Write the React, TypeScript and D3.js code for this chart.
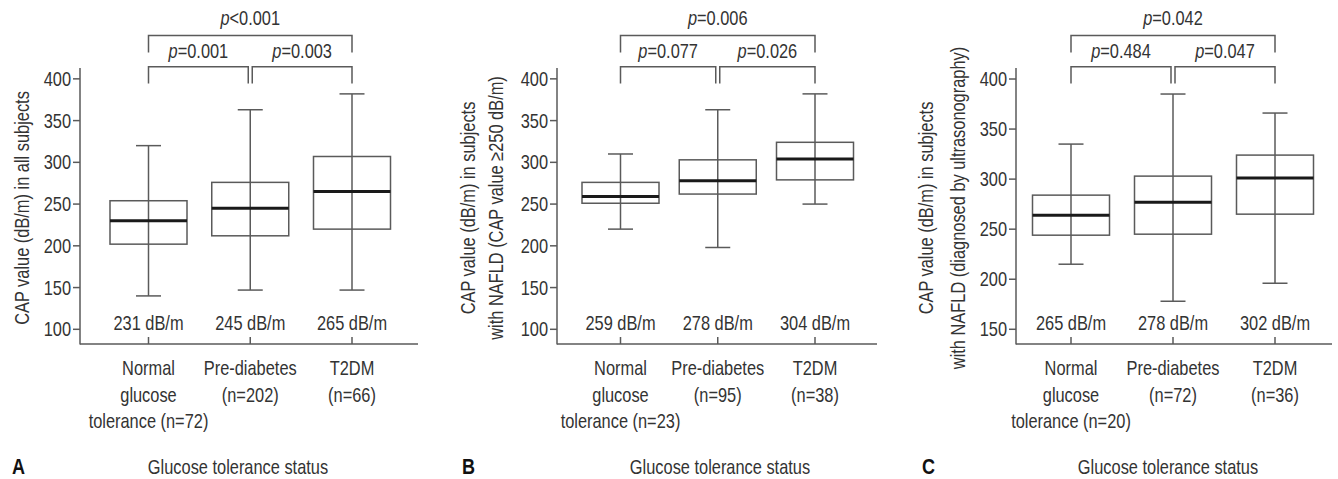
import * as d3 from "d3"

// ---- data ----
const groupNames = ["Normal glucose tolerance", "Pre-diabetes", "T2DM"]

const nA = [72, 202, 66]
const lowA = [140, 147, 147]
const q1A = [202, 212, 220]
const medA = [230, 245, 265]
const q3A = [254, 276, 307]
const highA = [320, 363, 382]
const medLabelsA = ["231 dB/m", "245 dB/m", "265 dB/m"]
const pA = ["=0.001", "=0.003", "<0.001"]

const nB = [23, 95, 38]
const lowB = [220, 198, 250]
const q1B = [251, 262, 279]
const medB = [259, 278, 304]
const q3B = [276, 303, 324]
const highB = [310, 363, 382]
const medLabelsB = ["259 dB/m", "278 dB/m", "304 dB/m"]
const pB = ["=0.077", "=0.026", "=0.006"]

const nC = [20, 72, 36]
const lowC = [215, 178, 196]
const q1C = [244, 245, 265]
const medC = [264, 277, 301]
const q3C = [284, 303, 324]
const highC = [335, 385, 366]
const medLabelsC = ["265 dB/m", "278 dB/m", "302 dB/m"]
const pC = ["=0.484", "=0.047", "=0.042"]

const ticksAB = [100, 150, 200, 250, 300, 350, 400]
const ticksC = [150, 200, 250, 300, 350, 400]

const FONT = "'Liberation Sans', Arial, sans-serif"
const TEXT = "#333"
const LINE = "#5a5a5a"
const SQUEEZE = 0.82 // condensed look

const makeCatLabels = (n) => [
  ["Normal", "glucose", `tolerance (n=${n[0]})`],
  ["Pre-diabetes", `(n=${n[1]})`],
  ["T2DM", `(n=${n[2]})`],
]

const panels = [
  {
    letter: "A", letterX: 12, axisX: 80, axisEnd: 418, cats: [148.5, 352],
    yDomain: [82.4, 413], ticks: ticksAB, tickRight: 71,
    yLabel: ["CAP value (dB/m) in all subjects"], yLabelX: [22],
    titleX: 238,
    n: nA, low: lowA, q1: q1A, med: medA, q3: q3A, high: highA, medLabels: medLabelsA, p: pA,
  },
  {
    letter: "B", letterX: 462, axisX: 557, axisEnd: 877, cats: [620.5, 815],
    yDomain: [82.4, 413], ticks: ticksAB, tickRight: 548,
    yLabel: ["CAP value (dB/m) in subjects", "with NAFLD (CAP value \u2265250 dB/m)"], yLabelX: [468, 496],
    titleX: 720,
    n: nB, low: lowB, q1: q1B, med: medB, q3: q3B, high: highB, medLabels: medLabelsB, p: pB,
  },
  {
    letter: "C", letterX: 922, axisX: 1016, axisEnd: 1332, cats: [1071, 1275],
    yDomain: [135.3, 411], ticks: ticksC, tickRight: 1007,
    yLabel: ["CAP value (dB/m) in subjects", "with NAFLD (diagnosed by ultrasonography)"], yLabelX: [926, 958],
    titleX: 1168,
    n: nC, low: lowC, q1: q1C, med: medC, q3: q3C, high: highC, medLabels: medLabelsC, p: pC,
  },
]

// text squeezed horizontally, like the condensed face of the original
const T = ({ x, y, anchor = "start", size = 20, rotate = 0, children, ...rest }) => (
  <text
    transform={`translate(${x},${y})${rotate ? ` rotate(${rotate})` : ""} scale(${SQUEEZE},1)`}
    textAnchor={anchor}
    fontSize={size}
    {...rest}
  >
    {children}
  </text>
)

const Panel = ({ cfg }) => {
  const y = d3.scaleLinear().domain(cfg.yDomain).range([344, 68])
  const x = d3.scalePoint().domain(groupNames).range(cfg.cats)
  const boxW = 77
  const capW = 25
  const catLabels = makeCatLabels(cfg.n)
  const xs = groupNames.map((g) => x(g))

  // brackets: left, right, line y, leg bottom, label, label baseline
  const brackets = [
    [xs[0], xs[1] - 2, 66.7, 83.5, cfg.p[0], 58],
    [xs[1] + 2, xs[2], 66.7, 83.5, cfg.p[1], 58],
    [xs[0], xs[2], 35.5, 52.5, cfg.p[2], 25],
  ]

  return (
    <g fontFamily={FONT} fill={TEXT}>
      {/* y axis */}
      <line x1={cfg.axisX} x2={cfg.axisX} y1={68} y2={344.5} stroke={LINE} strokeWidth={1.5} />
      {cfg.ticks.map((t) => (
        <g key={t}>
          <line x1={cfg.axisX - 7} x2={cfg.axisX} y1={y(t)} y2={y(t)} stroke={LINE} strokeWidth={1.5} />
          <T x={cfg.tickRight} y={y(t) + 7} anchor="end">{t}</T>
        </g>
      ))}
      {/* x axis */}
      <line x1={cfg.axisX} x2={cfg.axisEnd} y1={344} y2={344} stroke={LINE} strokeWidth={1.5} />
      {xs.map((cx, i) => (
        <g key={i}>
          <line x1={cx} x2={cx} y1={337} y2={344} stroke={LINE} strokeWidth={1.5} />
          {catLabels[i].map((s, j) => (
            <T key={j} x={cx} y={375 + j * 26.5} anchor="middle">{s}</T>
          ))}
          <T x={cx} y={330} anchor="middle">{cfg.medLabels[i]}</T>
        </g>
      ))}
      {/* boxes */}
      {xs.map((cx, i) => (
        <g key={"b" + i} stroke={LINE} strokeWidth={1.5} fill="none">
          <line x1={cx} x2={cx} y1={y(cfg.high[i])} y2={y(cfg.low[i])} />
          <line x1={cx - capW / 2} x2={cx + capW / 2} y1={y(cfg.high[i])} y2={y(cfg.high[i])} />
          <line x1={cx - capW / 2} x2={cx + capW / 2} y1={y(cfg.low[i])} y2={y(cfg.low[i])} />
          <rect x={cx - boxW / 2} y={y(cfg.q3[i])} width={boxW} height={y(cfg.q1[i]) - y(cfg.q3[i])} />
          <line x1={cx - boxW / 2} x2={cx + boxW / 2} y1={y(cfg.med[i])} y2={y(cfg.med[i])} stroke="#1a1a1a" strokeWidth={3} />
        </g>
      ))}
      {/* significance brackets */}
      {brackets.map(([l, r, ly, lb, p, ty], i) => (
        <g key={"p" + i}>
          <path d={`M${l},${lb}V${ly}H${r}V${lb}`} stroke={LINE} strokeWidth={1.5} fill="none" />
          <T x={(l + r) / 2} y={ty} anchor="middle">
            <tspan fontStyle="italic">p</tspan>{p}
          </T>
        </g>
      ))}
      {/* y label */}
      {cfg.yLabel.map((s, j) => (
        <T key={j} x={cfg.yLabelX[j]} y={208} rotate={-90} anchor="middle" dy="0.35em">{s}</T>
      ))}
      {/* panel letter and x title */}
      <T x={cfg.letterX} y={474} size={22} fontWeight="bold" fill="#111">{cfg.letter}</T>
      <T x={cfg.titleX} y={474} anchor="middle">Glucose tolerance status</T>
    </g>
  )
}

export default function App() {
  return (
    <svg width={1338} height={479} style={{ position: "absolute", left: 0, top: 0, background: "#fff" }}>
      {panels.map((p) => (
        <Panel key={p.letter} cfg={p} />
      ))}
    </svg>
  )
}
